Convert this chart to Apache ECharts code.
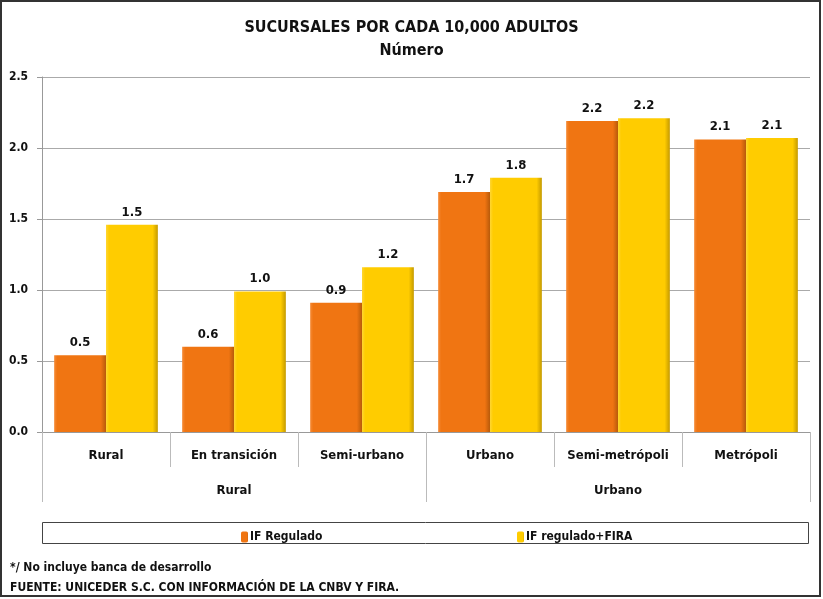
<!DOCTYPE html>
<html>
<head>
<meta charset="utf-8">
<script src="https://cdn.jsdelivr.net/npm/echarts@6/dist/echarts.min.js"></script>
<style>
html,body{margin:0;padding:0;background:#fff;}
#chart{width:823px;height:599px;}
</style>
</head>
<body>
<div id="chart"></div>
<script>
/*datos de la grafica*/
var categorias = ['Rural', 'En transición', 'Semi-urbano', 'Urbano', 'Semi-metrópoli', 'Metrópoli'];
var grupos = ['Rural', 'Urbano'];
var ifRegulado = [0.54, 0.60, 0.91, 1.69, 2.19, 2.06];
var ifReguladoFira = [1.46, 0.99, 1.16, 1.79, 2.21, 2.07];
var nombres = ['IF Regulado', 'IF regulado+FIRA'];

var fuente = "'Liberation Sans Narrow', 'DejaVu Sans Condensed', sans-serif";

/*degradado para dar efecto de bisel*/
var bisel = function (borde, centro, sombra) {
    return new echarts.graphic.LinearGradient(0, 0, 1, 0, [
        {offset: 0, color: borde},
        {offset: 0.06, color: centro},
        {offset: 0.9, color: centro},
        {offset: 1, color: sombra}
    ]);
};

var serie = function (nombre, datos, color) {
    return {
        name: nombre,
        type: 'bar',
        data: datos,
        barGap: '0%',
        barCategoryGap: '19%',
        itemStyle: {color: color},
        label: {
            show: true,
            position: 'top',
            distance: 6,
            fontFamily: fuente,
            fontWeight: 'bold',
            fontSize: 13,
            color: '#111',
            formatter: function (p) { return p.value.toFixed(1); }
        }
    };
};

var chart = echarts.init(document.getElementById('chart'));
chart.setOption({
    animation: false,
    textStyle: {fontFamily: fuente},
    title: {
        text: 'SUCURSALES POR CADA 10,000 ADULTOS\nNúmero',
        left: 'center',
        top: 11,
        textStyle: {fontFamily: fuente, fontWeight: 'bold', fontSize: 16, lineHeight: 23, color: '#111'}
    },
    legend: [
        {
            left: 236, top: 526,
            itemWidth: 7, itemHeight: 11, itemGap: 0,
            data: [nombres[0]],
            textStyle: {fontFamily: fuente, fontWeight: 'bold', fontSize: 12, color: '#111', padding: [0, 0, 0, -3]}
        },
        {
            left: 512, top: 526,
            itemWidth: 7, itemHeight: 11, itemGap: 0,
            data: [nombres[1]],
            textStyle: {fontFamily: fuente, fontWeight: 'bold', fontSize: 12, color: '#111', padding: [0, 0, 0, -3]}
        }
    ],
    grid: {left: 42, right: 13, top: 77, bottom: 167},
    xAxis: [
        {
            type: 'category',
            data: categorias,
            axisLine: {lineStyle: {color: '#999'}},
            axisTick: {show: true, interval: 0, length: 35, lineStyle: {color: '#bbb'}},
            axisLabel: {interval: 0, margin: 17, fontFamily: fuente, fontWeight: 'bold', fontSize: 13, color: '#111'}
        },
        {
            type: 'category',
            data: grupos,
            position: 'bottom',
            offset: 35,
            axisLine: {show: false},
            axisTick: {show: true, interval: 0, length: 35, lineStyle: {color: '#bbb'}},
            axisLabel: {interval: 0, margin: 17, fontFamily: fuente, fontWeight: 'bold', fontSize: 13, color: '#111'}
        }
    ],
    yAxis: {
        type: 'value',
        min: 0,
        max: 2.5,
        interval: 0.5,
        axisLine: {show: true, lineStyle: {color: '#999'}},
        axisTick: {show: true, length: 5, lineStyle: {color: '#999'}},
        splitLine: {lineStyle: {color: '#aaa'}},
        axisLabel: {
            margin: 14,
            fontFamily: fuente, fontWeight: 'bold', fontSize: 12, color: '#111',
            formatter: function (v) { return v.toFixed(1); }
        }
    },
    series: [
        serie(nombres[0], ifRegulado, bisel('#f58a35', '#f07512', '#b85a0a')),
        serie(nombres[1], ifReguladoFira, bisel('#ffd633', '#ffcc00', '#c49a00'))
    ],
    graphic: [
        {type: 'rect', shape: {x: 1, y: 1, width: 819, height: 595}, style: {fill: null, stroke: '#333', lineWidth: 2}, silent: true},
        {type: 'rect', shape: {x: 42.5, y: 522.5, width: 766, height: 21}, style: {fill: null, stroke: '#444', lineWidth: 1}, silent: true},
        {type: 'text', left: 10, top: 562, style: {text: '*/ No incluye banca de desarrollo', font: 'bold 12px ' + fuente, fill: '#111'}},
        {type: 'text', left: 10, top: 582, style: {text: 'FUENTE: UNICEDER S.C. CON INFORMACIÓN DE LA CNBV Y FIRA.', font: 'bold 12px ' + fuente, fill: '#111'}}
    ]
});
</script>
</body>
</html>
